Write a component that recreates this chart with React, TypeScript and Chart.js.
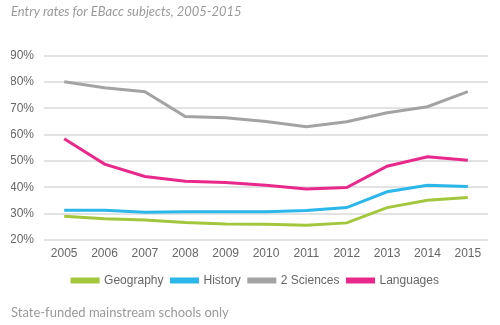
import React, { useEffect, useRef } from "react";
import { Chart, registerables } from "chart.js";

Chart.register(...registerables);

const years = ["2005", "2006", "2007", "2008", "2009", "2010", "2011", "2012", "2013", "2014", "2015"];
const geography = [29, 28.1, 27.6, 26.6, 26.1, 26.0, 25.6, 26.5, 32.3, 35.1, 36.1];
const history = [31.3, 31.3, 30.5, 30.7, 30.7, 30.7, 31.2, 32.3, 38.3, 40.8, 40.3];
const sciences = [80.1, 77.8, 76.3, 66.9, 66.4, 65.0, 63.0, 64.9, 68.3, 70.6, 76.3];
const languages = [58.4, 48.8, 44.1, 42.3, 41.8, 40.8, 39.4, 39.9, 48.0, 51.6, 50.3];
const seriesNames = ["Geography", "History", "2 Sciences", "Languages"];
const seriesColors = ["#a3c73c", "#2bb7e9", "#a3a3a3", "#e9288c"];
const titleText = "Entry rates for EBacc subjects, 2005-2015";
const footerText = "State-funded mainstream schools only";

const shiftLegend = {
  id: "shiftLegend",
  afterLayout(chart: any) {
    if (chart.legend) {
      chart.legend.left += 6;
      chart.legend.right += 6;
    }
  },
};

export default function App() {
  const ref = useRef<HTMLCanvasElement>(null);
  useEffect(() => {
    document.body.style.margin = "0";
    const values = [geography, history, sciences, languages];
    const chart = new Chart(ref.current!, {
      type: "line",
      data: {
        labels: years,
        datasets: values.map((d, i) => ({
          label: seriesNames[i],
          data: d,
          borderColor: seriesColors[i],
          backgroundColor: seriesColors[i],
          borderWidth: 3,
          pointRadius: 0,
          tension: 0,
        })),
      },
      plugins: [shiftLegend],
      options: {
        animation: false,
        responsive: false,
        layout: { padding: { left: 11, right: 12, top: 2, bottom: 2 } },
        plugins: {
          tooltip: { enabled: false },
          title: {
            display: true,
            text: titleText,
            align: "start",
            color: "#9a9a9a",
            font: { family: "Lato", size: 13, style: "italic", weight: "normal" },
            padding: { top: 2, bottom: 36 },
          },
          subtitle: {
            display: true,
            text: footerText,
            position: "bottom",
            align: "start",
            color: "#9a9a9a",
            font: { family: "Lato", size: 13, weight: "normal" },
            padding: { top: 9, bottom: 2 },
          },
          legend: {
            position: "bottom",
            labels: {
              boxWidth: 26,
              boxHeight: 3,
              color: "#666",
              font: { family: "Liberation Sans", size: 12 },
              padding: 8,
            },
          },
        },
        scales: {
          x: {
            offset: true,
            grid: { display: false, drawTicks: false },
            border: { display: false },
            ticks: { color: "#666", font: { family: "Liberation Sans", size: 12 }, padding: 6, maxRotation: 0 },
          },
          y: {
            min: 20,
            max: 90,
            grid: { color: "#e3e3e3", lineWidth: 2, drawTicks: false },
            border: { display: false },
            afterFit: (scale: any) => {
              scale.width = 33;
            },
            ticks: {
              stepSize: 10,
              color: "#666",
              padding: 10,
              font: { family: "Liberation Sans", size: 12 },
              callback: (v: any) => v + "%",
            },
          },
        },
      },
    });
    return () => chart.destroy();
  }, []);
  return (
    <div style={{ position: "absolute", left: 0, top: 0, width: 500, height: 325 }}>
      <canvas ref={ref} width={500} height={325} />
    </div>
  );
}
